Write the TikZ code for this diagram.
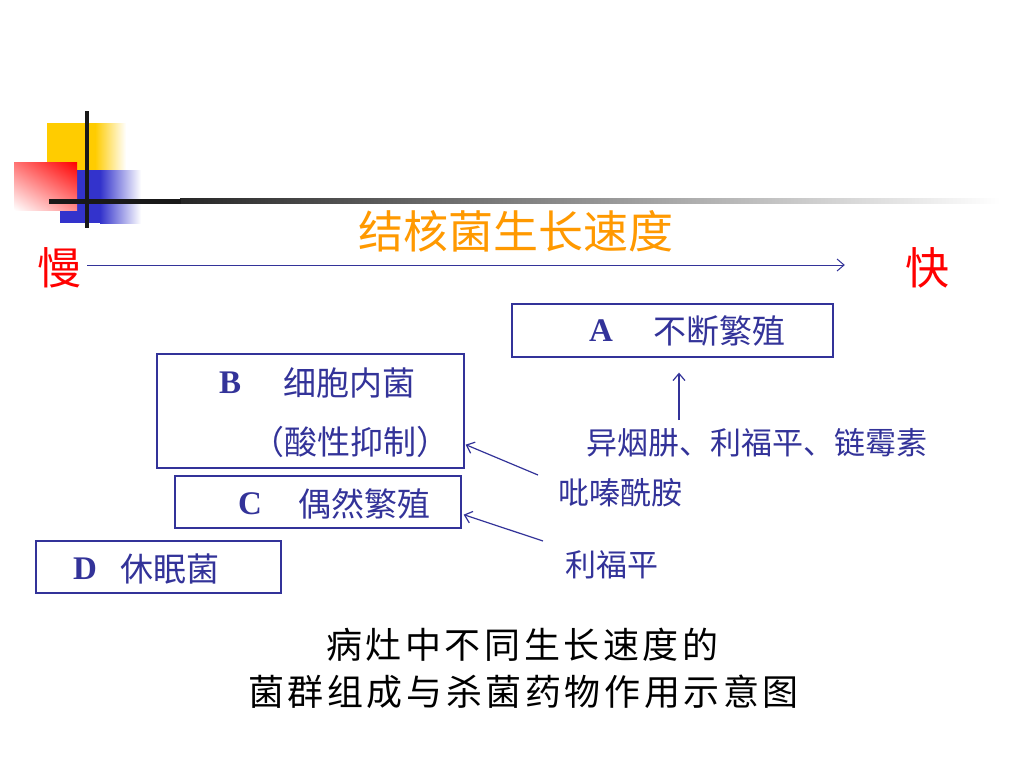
\documentclass[tikz,border=0pt]{standalone}
\usepackage{fontspec}
\setmainfont{Liberation Serif}
\newfontfamily\cjk{Noto Sans CJK SC}
\newfontfamily\cjkspaced[LetterSpace=10]{Noto Sans CJK SC}
\usetikzlibrary{arrows.meta,shadings}
\definecolor{navy}{RGB}{51,51,153}
\definecolor{ttlorange}{RGB}{255,153,0}
\definecolor{deco yellow}{RGB}{255,204,0}
\definecolor{deco blue}{RGB}{51,51,204}
\tikzset{
  box/.style={draw=navy, line width=1.3pt, inner sep=0pt},
  letter/.style={anchor=west, inner sep=0pt, text=navy, font=\fontsize{33}{36}\selectfont\bfseries},
  cjktxt/.style={anchor=west, inner sep=0pt, text=navy, font=\fontsize{33}{36}\selectfont\cjk},
  drug/.style={anchor=west, inner sep=0pt, text=navy, font=\fontsize{31}{34}\selectfont\cjk},
  arr/.style={draw=navy, line width=1.2pt, -{Straight Barb[length=7pt,width=12pt]}},
  speed/.style={inner sep=0pt, text=red, font=\fontsize{44}{48}\selectfont\cjk},
  caption/.style={inner sep=0pt, text=black, font=\fontsize{36}{40}\selectfont\cjkspaced}
}
\begin{document}
\begin{tikzpicture}[x=1pt,y=-1pt]
\useasboundingbox (0,0) rectangle (1024,768);
\fill[white] (0,0) rectangle (1024,768);
% decoration
\fill[deco yellow] (47,123) rectangle (96,200);
\shade[left color=deco yellow, right color=white] (95,123) rectangle (126,200);
\fill[deco blue] (60,170) rectangle (101,223);
\shade[left color=deco blue, right color=white] (100,170) rectangle (141,223);
\shade[upper right=red, upper left=red!55, lower right=red!45, lower left=white] (14,162) rectangle (77,210);
\shade[left color=black!85, right color=white] (180,198.5) rectangle (1000,203.5);
\fill[black!90] (49,198.5) rectangle (181,203.5);
\draw[black!90, line width=4pt] (87,111) -- (87,228);
% title and speed axis
\node[inner sep=0pt, text=ttlorange, font=\fontsize{45}{48}\selectfont\cjk] (title) at (516,231) {结核菌生长速度};
\node[speed] (slow) at (59,268) {慢};
\node[speed] (fast) at (927,268) {快};
\draw[arr, line width=1pt] ([xshift=6pt,yshift=3pt]slow.east) -- ([xshift=-60pt,yshift=3pt]fast.west);
% boxes
\node[box, minimum width=321pt, minimum height=53pt] (A) at (672.5,330.5) {};
\node[box, minimum width=307pt, minimum height=114pt] (B) at (310.5,411) {};
\node[box, minimum width=286pt, minimum height=52pt] (C) at (318,502) {};
\node[box, minimum width=245pt, minimum height=52pt] (D) at (158.5,567) {};
% box texts
\node[letter] (Al) at (589,331) {A};
\node[cjktxt] (At) at (653,331) {不断繁殖};
\node[letter] (Bl) at (219,383) {B};
\node[cjktxt] (Bt) at (283,383) {细胞内菌};
\node[cjktxt] (Bt2) at (251,442) {（酸性抑制）};
\node[letter] (Cl) at (238,504) {C};
\node[cjktxt] (Ct) at (298,504) {偶然繁殖};
\node[letter] (Dl) at (73,569) {D};
\node[cjktxt] (Dt) at (120,569) {休眠菌};
% drugs
\node[drug] (drug1) at (586,443) {异烟肼、利福平、链霉素};
\node[drug] (drug2) at (558,493) {吡嗪酰胺};
\node[drug] (drug3) at (565,565) {利福平};
\coordinate (u1) at (679,420);
\coordinate (p1) at (538,475);
\coordinate (p2) at (543,541);
\draw[arr] (u1) -- ([shift={(6.5pt,-15pt)}]A.south);
\draw[arr] (p1) -- ([xshift=1pt,yshift=24pt]B.south east);
\draw[arr] (p2) -- ([xshift=2pt,yshift=14pt]C.south east);
% caption
\node[caption, anchor=west] (cap1) at (326,645) {病灶中不同生长速度的};
\node[caption, anchor=west] (cap2) at (248,692) {菌群组成与杀菌药物作用示意图};
\end{tikzpicture}
\end{document}
